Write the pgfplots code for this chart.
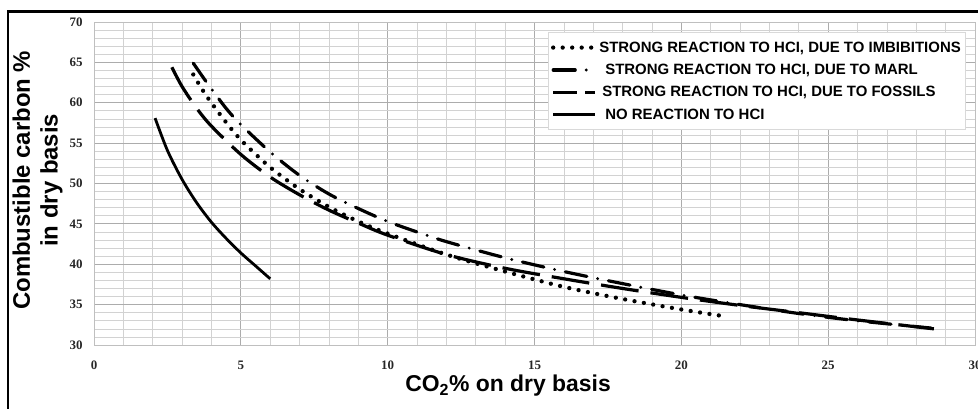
\documentclass[border=0pt]{standalone}
\usepackage{fontspec}
\setmainfont{Liberation Sans}
\newfontfamily\tickfont{Liberation Serif}
\usepackage{pgfplots}
\pgfplotsset{compat=1.18}
\begin{document}
\begin{tikzpicture}[x=1bp,y=1bp]
\path[use as bounding box] (0,0) rectangle (978,408);
\draw[line width=2.5bp] (8,-10) -- (8,396.5) -- (990,396.5);
\begin{axis}[
  at={(94bp,63bp)}, anchor=south west,
  width=881bp, height=323bp, scale only axis,
  xmin=0, xmax=30, ymin=30, ymax=70,
  xtick={0,5,...,30}, ytick={30,35,...,70},
  minor x tick num=4, minor y tick num=4,
  grid=both,
  major grid style={gray!65, line width=0.9bp},
  minor grid style={gray!35, line width=0.7bp},
  major tick length=0pt, minor tick length=0pt,
  axis line style={gray!50, line width=0.8bp},
  /pgf/number format/assume math mode=true,
  ticklabel style={font=\tickfont\bfseries\fontsize{13}{13}\selectfont, text=black!85},
  xticklabel style={yshift=-12bp},
  yticklabel style={xshift=-8bp},
  xlabel={CO\textsubscript{2}\% on dry basis},
  xlabel style={at={(axis description cs:0.47,-0.125)}, anchor=center, font=\bfseries\fontsize{23}{26}\selectfont},
  ylabel={Combustible carbon \%\\in dry basis},
  ylabel style={at={(axis description cs:-0.064,0.51)}, anchor=center, align=center, font=\bfseries\fontsize{24}{28}\selectfont},
  legend style={at={(0.515,0.968)}, anchor=north west, fill=white, draw=gray!30, line width=0.6bp,
    font=\bfseries\fontsize{15}{17}\selectfont, row sep=6.5bp, inner xsep=3bp, inner ysep=7bp},
  legend cell align=left,
  legend image code/.code={\draw[#1] (0bp,0bp) -- (42bp,0bp);},
]
\addplot[black, line width=4.3bp, line cap=round, dash pattern=on 0bp off 9.5bp, smooth] coordinates {
(3.38,63.5)(3.8,61.0)(4.47,57.7)(5.0,55.4)(5.6,53.3)(6.1,51.7)(7.0,49.3)(8.0,47.1)(9.0,45.3)
(10.0,43.8)(12.0,41.2)(14.0,39.1)(16.0,37.2)(18.0,35.7)(20.0,34.4)(21.4,33.6)};
\addlegendentry{STRONG REACTION TO HCI, DUE TO IMBIBITIONS}
\addplot[black, line width=3.2bp, line cap=round, dash pattern=on 22bp off 11bp on 0bp off 11bp, smooth] coordinates {
(3.38,64.9)(3.9,62.2)(4.5,59.3)(5.0,57.3)(6.0,53.9)(7.0,51.0)(8.0,48.7)(9.0,46.9)(10.0,45.3)
(11.0,44.0)(12.0,42.8)(14.0,40.8)(16.0,39.1)(18.0,37.6)(20.0,36.2)(22.0,35.0)(24.0,33.9)(26.0,33.0)(28.5,32.1)};
\addlegendentry{\hspace{6bp}STRONG REACTION TO HCI, DUE TO MARL}
\addplot[black, line width=3.2bp, dash pattern=on 38bp off 12bp, smooth,
  legend image code/.code={\draw[black, line width=3.2bp] (0bp,0bp) -- (24bp,0bp); \draw[black, line width=3.2bp] (32bp,0bp) -- (42bp,0bp);}] coordinates {
(2.65,64.4)(3.0,62.0)(3.5,59.3)(4.0,57.1)(5.0,53.6)(6.0,50.8)(7.0,48.6)(8.0,46.7)(9.0,45.1)
(10.0,43.6)(12.0,41.2)(14.0,39.5)(16.0,38.2)(18.0,37.0)(20.0,35.9)(22.0,34.9)(24.0,34.0)(26.0,33.1)(28.6,32.0)};
\addlegendentry{\hspace{3bp}STRONG REACTION TO HCI, DUE TO FOSSILS}
\addplot[black, line width=2.8bp, smooth] coordinates {
(2.08,58.1)(2.5,54.1)(3.0,50.5)(3.5,47.6)(4.0,45.2)(4.5,43.2)(5.0,41.4)(5.5,39.8)(6.0,38.2)};
\addlegendentry{\hspace{6bp}NO REACTION TO HCI}
\end{axis}
\end{tikzpicture}
\end{document}
